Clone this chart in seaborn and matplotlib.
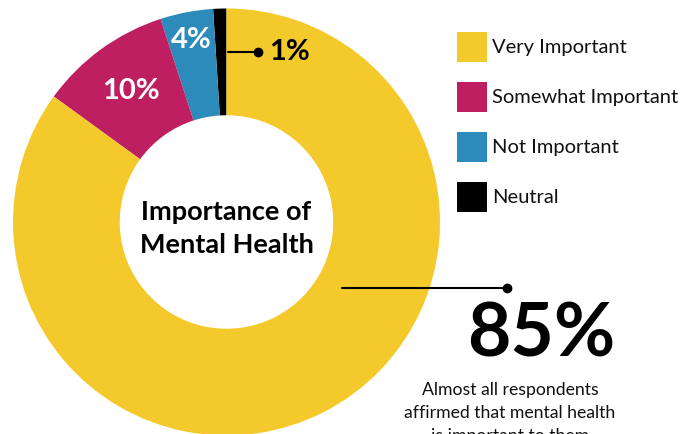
import matplotlib
matplotlib.use("Agg")
import matplotlib.pyplot as plt
import seaborn as sns
import numpy as np
from matplotlib.patches import Patch

# ---- data ----
categories = ["Neutral", "Not Important", "Somewhat Important", "Very Important"]
values = [1, 4, 10, 85]
colors = ["#000000", "#2D8BBC", "#BD1F61", "#F3C92B"]
legend_order = ["Very Important", "Somewhat Important", "Not Important", "Neutral"]
center_title = "Importance of\nMental Health"
big_value = "85%"
big_caption = ["Almost all respondents", "affirmed that mental health", "is important to them"]

sns.set_theme(style="white")
plt.rcParams["font.family"] = ["Lato", "DejaVu Sans"]

W, H = 696, 434
fig = plt.figure(figsize=(W / 100, H / 100), dpi=100)

def fx(px):
    return px / W

def fy(py):
    return 1 - py / H

cx, cy, R = 226.5, 222.0, 213.5
ax = fig.add_axes([fx(cx - R), fy(cy + R), 2 * R / W, 2 * R / H])
wedges, _ = ax.pie(values, colors=colors, startangle=90, counterclock=True,
                   radius=1, wedgeprops=dict(width=0.5, edgecolor="none", linewidth=0))
ax.set_xlim(-1, 1)
ax.set_ylim(-1, 1)
ax.set_aspect("equal")
ax.axis("off")

# inside labels
label_r = {"Somewhat Important": 0.76, "Not Important": 0.87}
for w, cat, v in zip(wedges, categories, values):
    if cat in label_r:
        mid = np.deg2rad((w.theta1 + w.theta2) / 2)
        r = label_r[cat]
        ax.text(r * np.cos(mid), r * np.sin(mid), f"{v}%", color="white",
                fontsize=21, fontweight="bold", ha="center", va="center")

# 1% callout
y1 = 0.796
ax.plot([0.005, 0.148], [y1, y1], color="black", lw=1.5, clip_on=False)
ax.plot([0.148], [y1], "o", color="black", ms=6, clip_on=False)
ax.text(0.297, y1, f"{values[0]}%", color="black", fontsize=21, fontweight="bold",
        ha="center", va="center")

# center title
ax.text(0, -0.03, center_title, ha="center", va="center", fontsize=19.5,
        fontweight="bold", color="black", linespacing=1.45)

# 85% callout line
y85 = -0.307
ax.plot([0.541, 1.315], [y85, y85], color="black", lw=1.5, clip_on=False)
ax.plot([1.315], [y85], "o", color="black", ms=6, clip_on=False)

fig.text(fx(541), fy(335), big_value, ha="center", va="center", fontsize=54,
         fontweight="bold", color="black")
for i, line in enumerate(big_caption):
    fig.text(fx(510), fy(390 + 23 * i), line, ha="center", va="center",
             fontsize=12.7, color="#111111")

# legend
handles = [Patch(facecolor=colors[categories.index(c)], edgecolor="none") for c in legend_order]
fs = 14.5
fspx = fs * 100 / 72
hh = (30 - 0.245 * fspx) / (0.65 * fspx)
fig.legend(handles, legend_order, loc="upper left",
           bbox_to_anchor=(fx(457), fy(32)), frameon=False, fontsize=fs,
           handlelength=30 / fspx, handleheight=hh,
           labelspacing=20 / fspx, handletextpad=5 / fspx,
           borderpad=0, borderaxespad=0, labelcolor="#111111")

fig.savefig("out.png", dpi=100)
